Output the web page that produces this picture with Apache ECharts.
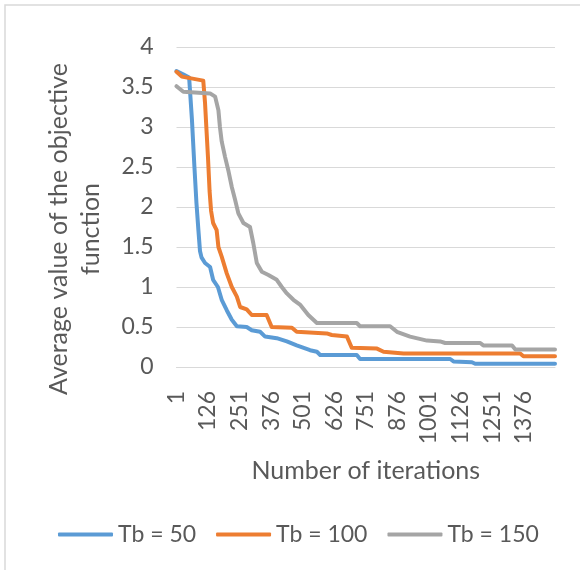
<!DOCTYPE html>
<html>
<head>
<meta charset="utf-8">
<script src="https://cdn.jsdelivr.net/npm/echarts@6/dist/echarts.min.js"></script>
<style>
html,body{margin:0;padding:0;background:#fff;}
#chart{width:580px;height:570px;}
</style>
</head>
<body>
<div id="chart"></div>
<script>
// Number of iterations on the category axis (1 .. 1500)
const iterationCount = 1500;
const categories = [];
for (let k = 1; k <= iterationCount; k++) categories.push(String(k));

const seriesNames = ['Tb = 50', 'Tb = 100', 'Tb = 150'];

// [iteration, average objective value]
const tb50 = [
  [1,3.70],[27,3.66],[51,3.62],[62,3.10],[72,2.50],[80,2.05],[88,1.70],[94,1.45],
  [100,1.37],[114,1.30],[134,1.25],[146,1.09],[165,1.00],[180,0.84],[200,0.71],
  [220,0.59],[240,0.51],[279,0.50],[299,0.46],[332,0.44],[352,0.38],[398,0.36],
  [438,0.32],[477,0.27],[530,0.21],[557,0.19],[570,0.15],[715,0.15],[728,0.10],
  [1085,0.10],[1098,0.07],[1171,0.06],[1184,0.04],[1500,0.04]
];
const tb100 = [
  [1,3.69],[22,3.63],[107,3.58],[114,3.30],[120,2.95],[126,2.60],[132,2.20],
  [138,1.95],[146,1.80],[160,1.71],[167,1.50],[180,1.38],[200,1.17],[220,1.00],
  [240,0.88],[253,0.75],[279,0.72],[299,0.65],[358,0.65],[378,0.50],[458,0.49],
  [477,0.44],[596,0.42],[616,0.40],[676,0.38],[695,0.24],[795,0.23],[821,0.19],
  [900,0.17],[1362,0.17],[1375,0.135],[1500,0.135]
];
const tb150 = [
  [1,3.51],[28,3.44],[134,3.42],[154,3.38],[167,3.21],[173,3.00],[180,2.82],
  [193,2.63],[206,2.46],[220,2.25],[233,2.09],[246,1.92],[266,1.80],[292,1.75],
  [305,1.55],[319,1.30],[339,1.19],[365,1.15],[398,1.09],[418,1.00],[438,0.92],
  [464,0.84],[490,0.78],[523,0.65],[557,0.55],[715,0.55],[728,0.51],[847,0.51],
  [874,0.44],[926,0.38],[993,0.33],[1045,0.32],[1065,0.30],[1204,0.30],[1216,0.27],
  [1330,0.27],[1343,0.22],[1500,0.22]
];

const colors = ['#5B9BD5', '#ED7D31', '#A5A5A5'];
const font = 'Lato, Carlito, "Liberation Sans", sans-serif';
const textColor = '#595959';

function toIndex(arr){ return arr.map(p => [p[0]-1, p[1]]); }

const chart = echarts.init(document.getElementById('chart'), null, {renderer:'canvas'});
const mkSeries = (name, data, color) => ({
  name: name,
  type: 'line',
  data: toIndex(data),
  showSymbol: false,
  symbol: 'none',
  smooth: false,
  lineStyle: {width: 4, color: color, cap: 'round', join: 'round'},
  itemStyle: {color: color},
  animation: false
});

chart.setOption({
  animation: false,
  textStyle: {fontFamily: font},
  graphic: [{
    type: 'rect', silent: true,
    shape: {x: 5, y: 5, width: 700, height: 700},
    style: {fill: 'none', stroke: '#d9d9d9', lineWidth: 1.5}
  }],
  grid: {left: 176.5, right: 25, top: 47, bottom: 203},
  legend: {
    data: seriesNames,
    left: 58, top: 523, padding: 0,
    itemWidth: 55, itemHeight: 4, itemGap: 20,
    icon: 'roundRect',
    textStyle: {fontFamily: font, fontSize: 23, color: textColor}
  },
  xAxis: {
    type: 'category',
    data: categories,
    boundaryGap: false,
    name: 'Number of iterations',
    nameLocation: 'middle',
    nameGap: 91,
    nameTextStyle: {fontFamily: font, fontSize: 25, color: textColor},
    axisLine: {lineStyle: {color: '#d9d9d9', width: 1}},
    axisTick: {show: false},
    axisLabel: {interval: 124, rotate: 90, margin: 24, fontFamily: font, fontSize: 23, color: textColor},
    splitLine: {show: false}
  },
  yAxis: {
    type: 'value',
    min: 0, max: 4, interval: 0.5,
    name: 'Average value of the objective\nfunction',
    nameLocation: 'middle',
    nameRotate: 90,
    nameGap: 70,
    nameTextStyle: {fontFamily: font, fontSize: 25, color: textColor, lineHeight: 32, align: 'center', padding: [0, 44, 0, 0]},
    axisLine: {show: false},
    axisTick: {show: false},
    axisLabel: {margin: 23, fontFamily: font, fontSize: 23, color: textColor},
    splitLine: {lineStyle: {color: '#d9d9d9', width: 1}}
  },
  series: [
    mkSeries(seriesNames[0], tb50, colors[0]),
    mkSeries(seriesNames[1], tb100, colors[1]),
    mkSeries(seriesNames[2], tb150, colors[2])
  ]
});
</script>
</body>
</html>
